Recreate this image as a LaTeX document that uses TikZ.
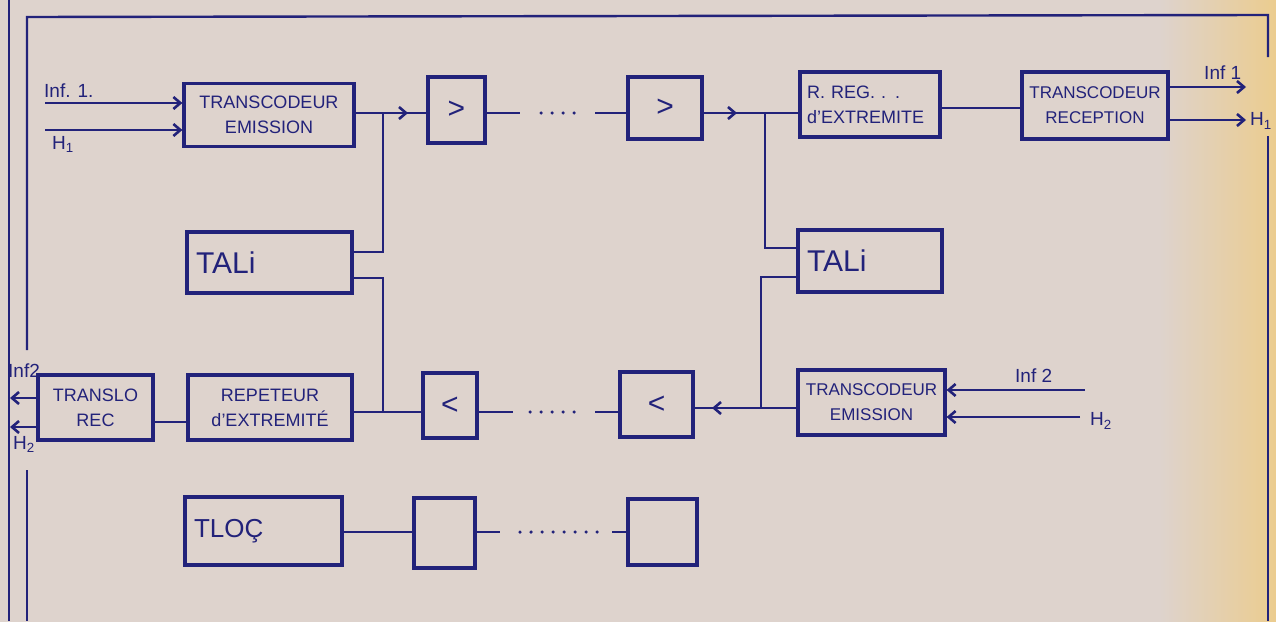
\documentclass[tikz,border=0pt]{standalone}
\usepackage{fontspec}
\setmainfont{Liberation Sans}
\usetikzlibrary{arrows.meta,calc}
\definecolor{ink}{RGB}{34,34,122}
\definecolor{paper}{RGB}{222,211,205}
\definecolor{paperY}{RGB}{236,204,140}
\newcommand\myboxfont{\fontsize{18}{25}\selectfont}
\newcommand\mybigfont{\fontsize{30}{32}\selectfont}
\newcommand\mylabfont{\fontsize{19}{21}\selectfont}
\begin{document}
\begin{tikzpicture}[x=1pt,y=-1pt,
  blk/.style={draw=ink,line width=3.2pt,inner sep=0pt,font=\myboxfont,align=center,text=ink},
  bigblk/.style={blk,font=\mybigfont,align=left,inner xsep=9pt},
  wire/.style={draw=ink,line width=2.6pt},
  arr/.style={wire,-{Straight Barb[length=7pt,width=12pt]}},
  dots/.style={draw=ink,line width=3.5pt,line cap=round,dash pattern=on 0pt off 11pt},
  frame/.style={draw=ink,line width=2.4pt},
  lab/.style={text=ink,font=\mylabfont,inner sep=0pt}]
\useasboundingbox (0,0) rectangle (1276,621);
\fill[paper] (-5,-5) rectangle (1281,626);
\shade[left color=paper,right color=paperY] (1160,-5) rectangle (1281,626);

% frame
\coordinate (f0a) at (9,0); \coordinate (f0b) at (9,621);
\coordinate (ftl) at (27,17); \coordinate (ftr) at (1268,15);
\coordinate (fl1) at (27,350); \coordinate (fl2) at (27,470); \coordinate (fl3) at (27,621);
\coordinate (fr1) at (1268,57); \coordinate (fr2) at (1268,136); \coordinate (fr3) at (1268,621);
\draw[frame] (f0a) -- (f0b);
\draw[frame] (fl1) -- (ftl) -- (ftr) -- (fr1);
\draw[frame] (fl2) -- (fl3);
\draw[frame] (fr2) -- (fr3);

% top row
\node[blk,minimum width=170pt,minimum height=63pt] (te1) at (269,115) {TRANSCODEUR\\EMISSION};
\node[blk,font=\mybigfont,minimum width=57pt,minimum height=66pt] (r1) at (456.5,110) {>};
\node[blk,font=\mybigfont,minimum width=74pt,minimum height=62pt] (r2) at (665,108) {>};
\node[blk,align=left,text width=126pt,inner xsep=7pt,minimum height=65pt] (rreg) at (870,104.5) {R. REG. . .\\d'EXTREMITE};
\node[blk,font=\fontsize{17}{25}\selectfont,minimum width=146pt,minimum height=67pt] (trec) at (1095,105.5) {TRANSCODEUR\\RECEPTION};

% TALI
\node[bigblk,text width=147pt,minimum height=61pt] (tali1) at (269.5,262.5) {TALi};
\node[bigblk,text width=126pt,minimum height=62pt] (tali2) at (870,261) {TALi};

% bottom row
\node[blk,minimum width=115pt,minimum height=65pt] (tlrec) at (95.5,407.5) {TRANSLO\\REC};
\node[blk,minimum width=164pt,minimum height=65pt] (rep) at (270,407.5) {REPETEUR\\d'EXTREMITÉ};
\node[blk,font=\mybigfont,minimum width=54pt,minimum height=65pt] (l1) at (450,405.5) {<};
\node[blk,font=\mybigfont,minimum width=73pt,minimum height=65pt] (l2) at (656.5,404.5) {<};
\node[blk,font=\fontsize{17}{25}\selectfont,minimum width=147pt,minimum height=65pt] (te2) at (871.5,402.5) {TRANSCODEUR\\EMISSION};

% TLOC row
\node[bigblk,font=\fontsize{26}{28}\selectfont,text width=139pt,minimum height=68pt] (tloc) at (263.5,531) {TLOÇ};
\node[blk,minimum width=61pt,minimum height=70pt] (s1) at (444.5,533) {};
\node[blk,minimum width=69pt,minimum height=66pt] (s2) at (662.5,532) {};

% coordinates
\coordinate (in1) at (45,103);
\coordinate (inh1) at (45,130);
\coordinate (j1) at (383,113);
\coordinate (a1) at (408,113);
\coordinate (t1a) at (383,252);
\coordinate (t1b) at (383,278);
\coordinate (j2) at (383,412);
\coordinate (d1a) at (520,113); \coordinate (d1b) at (541,113); \coordinate (d1c) at (582,113); \coordinate (d1d) at (595,113);
\coordinate (a2) at (737,113);
\coordinate (j3) at (765,113);
\coordinate (t2a) at (765,248);
\coordinate (t2b) at (761,277);
\coordinate (j4) at (761,408);
\coordinate (a4) at (712,408);
\coordinate (d2a) at (513,412); \coordinate (d2b) at (530,412); \coordinate (d2c) at (580,412); \coordinate (d2d) at (595,412);
\coordinate (o1) at (1246,87);
\coordinate (o2) at (1246,120);
\coordinate (i2) at (1085,390);
\coordinate (ih2) at (1080,417);
\coordinate (lo1) at (10,398);
\coordinate (lo2) at (10,427);
\coordinate (d3a) at (500,532); \coordinate (d3b) at (520,532); \coordinate (d3c) at (608,532); \coordinate (d3d) at (612,532);

% connectors top
\draw[arr] (in1) -- (in1 -| te1.west);
\draw[arr] (inh1) -- (inh1 -| te1.west);
\draw[wire] (te1.east |- j1) -- (r1.west |- j1);
\draw[arr] (j1) -- (a1);
\draw[wire] (j1) -- (t1a) -- (t1a -| tali1.east);
\draw[wire] (t1b -| tali1.east) -- (t1b) -- (j2);
\draw[wire] (r1.east |- d1a) -- (d1a);
\draw[dots] (d1b) -- (d1c);
\draw[wire] (d1d) -- (d1d -| r2.west);
\draw[wire] (r2.east |- j3) -- (j3) -- (j3 -| rreg.west);
\draw[arr] (r2.east |- a2) -- (a2);
\draw[wire] (j3) -- (t2a) -- (t2a -| tali2.west);
\draw[wire] (t2b -| tali2.west) -- (t2b) -- (j4);
\draw[wire] (rreg.east |- 0,108) -- (trec.west |- 0,108);
\draw[arr] (trec.east |- o1) -- (o1);
\draw[arr] (trec.east |- o2) -- (o2);

% connectors bottom
\draw[wire] (rep.east |- j2) -- (j2) -- (j2 -| l1.west);
\draw[wire] (l1.east |- d2a) -- (d2a);
\draw[dots] (d2b) -- (d2c);
\draw[wire] (d2d) -- (d2d -| l2.west);
\draw[wire] (te2.west |- j4) -- (j4) -- (j4 -| l2.east);
\draw[arr] (j4) -- (a4);
\draw[arr] (i2) -- (i2 -| te2.east);
\draw[arr] (ih2) -- (ih2 -| te2.east);
\draw[wire] (tlrec.east |- 0,422) -- (rep.west |- 0,422);
\draw[arr] (lo1 -| tlrec.west) -- (lo1);
\draw[arr] (lo2 -| tlrec.west) -- (lo2);
\draw[wire] (tloc.east |- d3a) -- (tloc.east |- d3a -| s1.west);
\draw[wire] (s1.east |- d3a) -- (d3a);
\draw[dots] (d3b) -- (d3c);
\draw[wire] (d3d) -- (d3d -| s2.west);

% labels
\node[lab,anchor=south west] (lin1) at (44,98) {Inf. 1.};
\node[lab,anchor=north west] (lh1) at (52,136) {H\textsubscript{1}};
\node[lab,anchor=south west] (lin1r) at (1204,80) {Inf 1};
\node[lab,anchor=west] (lh1r) at (1250,121) {H\textsubscript{1}};
\node[lab,anchor=south west] (lin2r) at (1015,383) {Inf 2};
\node[lab,anchor=west] (lh2r) at (1090,421) {H\textsubscript{2}};
\node[lab,anchor=south west] (lin2l) at (8,378) {Inf2};
\node[lab,anchor=north west] (lh2l) at (13,436) {H\textsubscript{2}};
\end{tikzpicture}
\end{document}
